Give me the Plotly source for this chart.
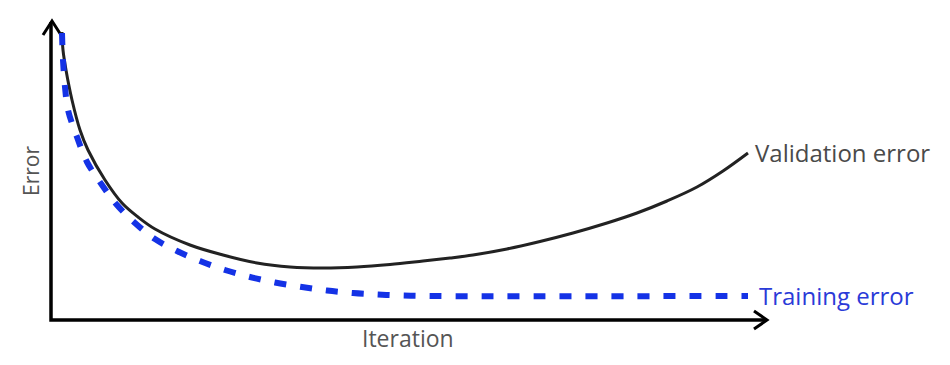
import plotly.graph_objects as go

# Values (x = iteration, y = error; both in chart units)
val_iter = [62, 63, 66, 72, 80, 88, 105, 122, 138, 155, 190, 223, 257, 290, 323, 357, 390, 423, 450, 473, 507, 540, 573, 607, 637, 667, 697, 723, 748]
val_err = [333, 315, 295, 265, 235, 215, 185, 162, 148, 136, 120, 110, 102, 98, 97, 98, 100.5, 104, 107, 110, 116, 123.5, 132, 142, 152, 164, 178, 194, 212]

train_iter = [62, 63, 65, 68, 77, 87, 102, 117, 135, 155, 177, 200, 225, 250, 275, 302, 327, 353, 378, 403, 430, 748]
train_err = [332, 305, 278, 255, 228, 203, 180, 160, 142, 126, 114, 104, 95, 88, 82.5, 78, 74.5, 72, 70.5, 69.5, 69, 69]

axis_x = [51, 51, 767]
axis_y = [343, 45, 45]

y_arrow_x = [43, 52, 61]
y_arrow_y = [330, 344, 330]
x_arrow_x = [754, 767, 754]
x_arrow_y = [54, 45, 36]

labels = ["Validation error", "Training error", "Iteration", "Error"]

fig = go.Figure()

fig.add_trace(go.Scatter(x=axis_x, y=axis_y, mode="lines",
                         line=dict(color="#000000", width=3.5), hoverinfo="skip"))
fig.add_trace(go.Scatter(x=y_arrow_x, y=y_arrow_y, mode="lines",
                         line=dict(color="#000000", width=3), hoverinfo="skip"))
fig.add_trace(go.Scatter(x=x_arrow_x, y=x_arrow_y, mode="lines",
                         line=dict(color="#000000", width=3), hoverinfo="skip"))

fig.add_trace(go.Scatter(x=val_iter, y=val_err, mode="lines", line_shape="spline",
                         line=dict(color="#222222", width=3, smoothing=1), name=labels[0]))
fig.add_trace(go.Scatter(x=train_iter, y=train_err, mode="lines", line_shape="spline",
                         line=dict(color="#1432e6", width=6, dash="12px,14px", smoothing=1),
                         name=labels[1]))

font = "Open Sans, Noto Sans, sans-serif"
fig.add_annotation(x=753, y=213, text=labels[0], showarrow=False, xanchor="left", yanchor="middle",
                   font=dict(family=font, size=24, color="#4a4a4a"))
fig.add_annotation(x=757, y=70, text=labels[1], showarrow=False, xanchor="left", yanchor="middle",
                   font=dict(family=font, size=24, color="#2a3ad8"))
fig.add_annotation(x=408, y=27, text=labels[2], showarrow=False, xanchor="center", yanchor="middle",
                   font=dict(family=font, size=23, color="#555555"))
fig.add_annotation(x=31, y=194, text=labels[3], showarrow=False, textangle=-90, xanchor="center", yanchor="middle",
                   font=dict(family=font, size=21, color="#555555"))

fig.update_layout(
    width=950, height=365,
    margin=dict(l=0, r=0, t=0, b=0),
    paper_bgcolor="white", plot_bgcolor="white",
    showlegend=False,
    xaxis=dict(range=[0, 950], visible=False, fixedrange=True),
    yaxis=dict(range=[0, 365], visible=False, fixedrange=True),
)

fig.write_html("out.html")
